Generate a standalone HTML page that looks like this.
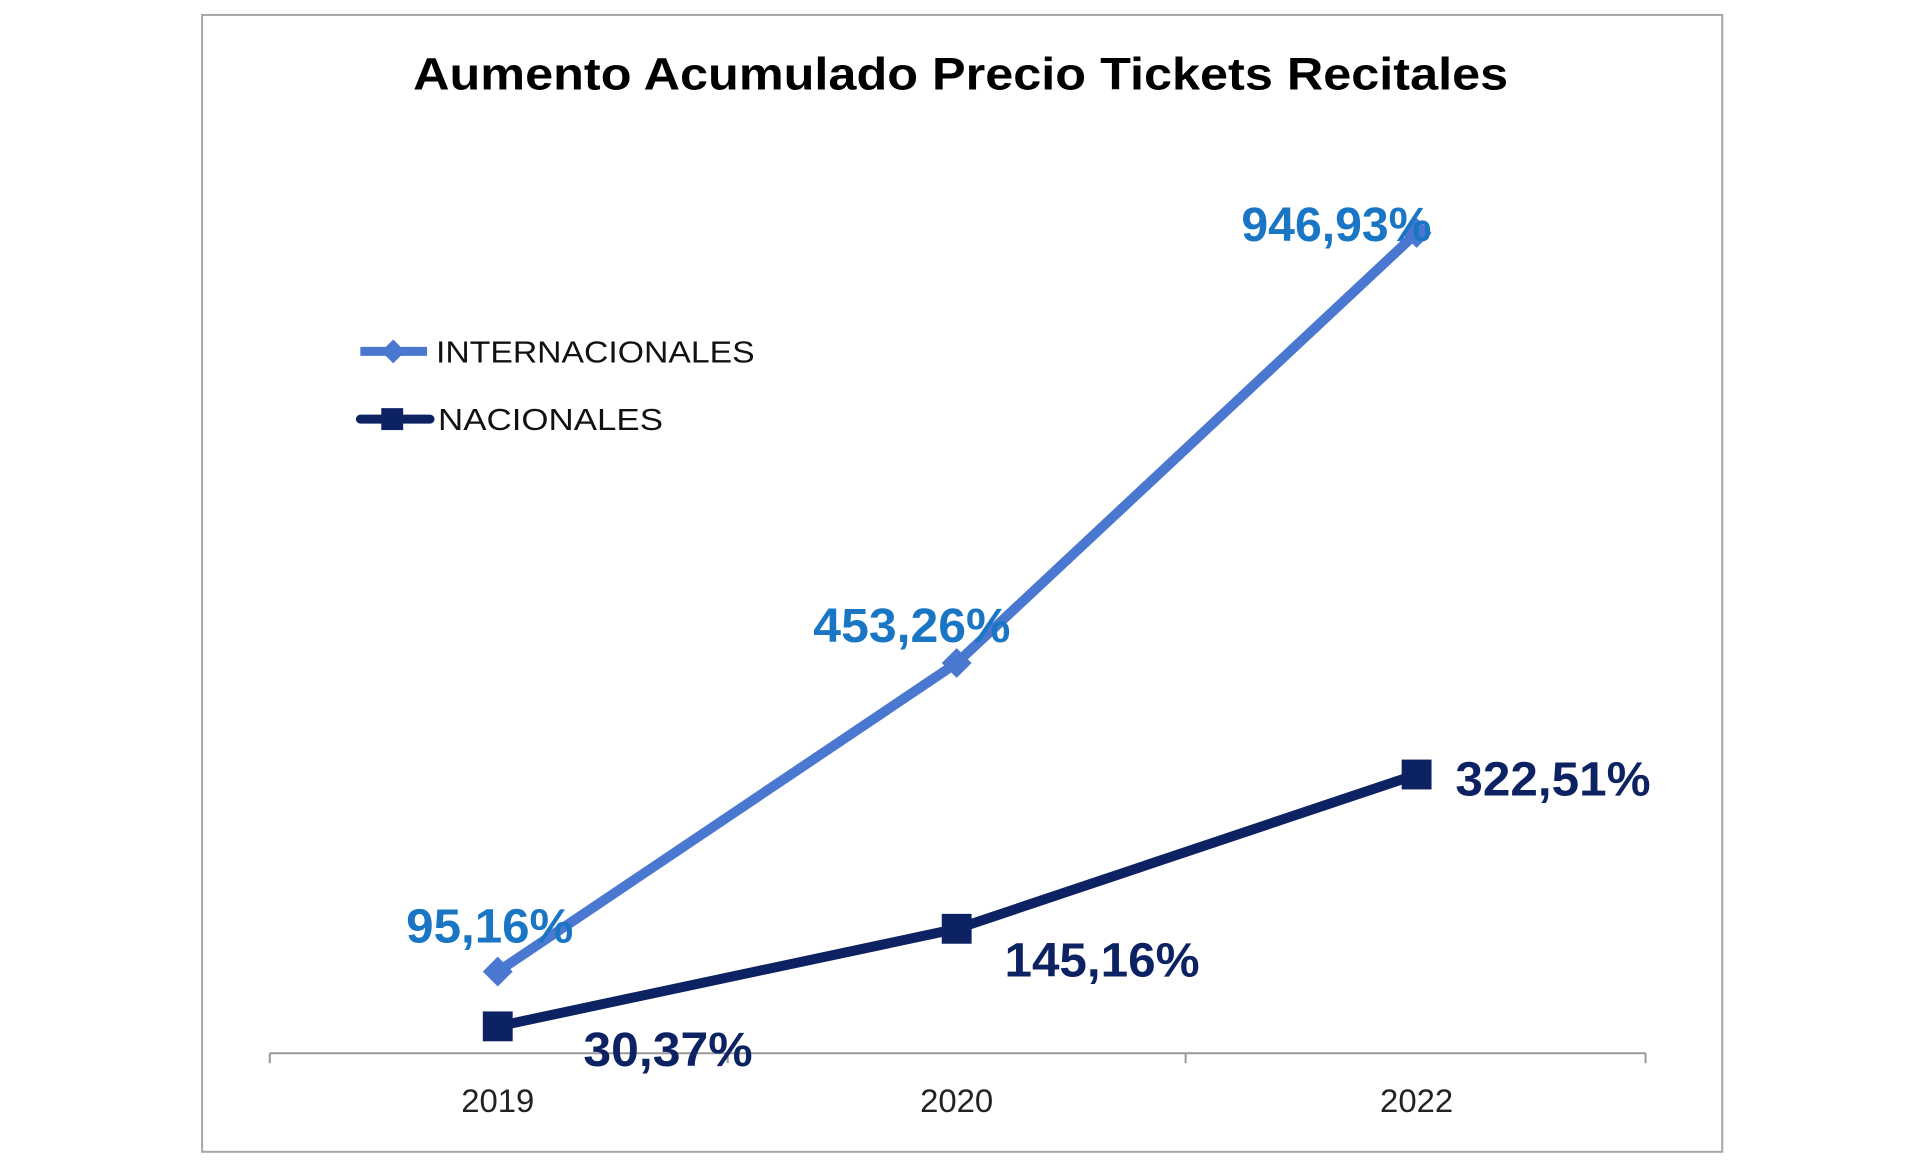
<!DOCTYPE html>
<html><head><meta charset="utf-8"><style>html,body{margin:0;padding:0;background:#fff}svg{display:block}</style></head>
<body>
<svg width="1920" height="1164" viewBox="0 0 1920 1164" xmlns="http://www.w3.org/2000/svg" font-family="Liberation Sans, sans-serif">
<rect x="0" y="0" width="1920" height="1164" fill="#fff"/>
<g transform="scale(0.9955)">
<rect x="203" y="15" width="1527" height="1142" fill="#fff" stroke="#a6a6a6" stroke-width="2"/>
<text x="965" y="90" text-anchor="middle" font-size="46" font-weight="bold" fill="#000" textLength="1100" lengthAdjust="spacingAndGlyphs">Aumento Acumulado Precio Tickets Recitales</text>
<g stroke="#999" stroke-width="2">
<line x1="271" y1="1058" x2="1653" y2="1058"/>
<line x1="271" y1="1058" x2="271" y2="1068"/>
<line x1="731" y1="1058" x2="731" y2="1068"/>
<line x1="1191" y1="1058" x2="1191" y2="1068"/>
<line x1="1653" y1="1058" x2="1653" y2="1068"/>
</g>
<g font-size="33" fill="#222" text-anchor="middle">
<text x="500" y="1117">2019</text>
<text x="961" y="1117">2020</text>
<text x="1423" y="1117">2022</text>
</g>
<polyline points="500,976 961,666 1423,234" fill="none" stroke="#4a78d0" stroke-width="10"/>
<g fill="#4a78d0">
<polygon points="500,961 515,976 500,991 485,976"/>
<polygon points="961,651 976,666 961,681 946,666"/>
<polygon points="1423,219 1438,234 1423,249 1408,234"/>
</g>
<polyline points="500,1031 961,933 1423,778" fill="none" stroke="#0d2262" stroke-width="10"/>
<g fill="#0d2262">
<rect x="485" y="1016" width="30" height="30"/>
<rect x="946" y="918" width="30" height="30"/>
<rect x="1408" y="763" width="30" height="30"/>
</g>
<g font-size="48" font-weight="bold">
<text x="408" y="947" fill="#1a76c4" textLength="168" lengthAdjust="spacingAndGlyphs">95,16%</text>
<text x="817" y="645" fill="#1a76c4" textLength="198" lengthAdjust="spacingAndGlyphs">453,26%</text>
<text x="1247" y="242" fill="#1a76c4" textLength="191" lengthAdjust="spacingAndGlyphs">946,93%</text>
<text x="1462" y="799" fill="#0d2262" textLength="196" lengthAdjust="spacingAndGlyphs">322,51%</text>
<text x="1009" y="981" fill="#0d2262" textLength="196" lengthAdjust="spacingAndGlyphs">145,16%</text>
<text x="586" y="1071" fill="#0d2262" textLength="170" lengthAdjust="spacingAndGlyphs">30,37%</text>
</g>
<line x1="362" y1="353" x2="429" y2="353" stroke="#4a78d0" stroke-width="9"/>
<polygon points="395,341 407,353 395,365 383,353" fill="#4a78d0"/>
<text x="438" y="364" font-size="31" fill="#111" textLength="320" lengthAdjust="spacingAndGlyphs">INTERNACIONALES</text>
<line x1="362" y1="421" x2="432" y2="421" stroke="#0d2262" stroke-width="9" stroke-linecap="round"/>
<rect x="383" y="410" width="22" height="22" fill="#0d2262"/>
<text x="440" y="432" font-size="31" fill="#111" textLength="226" lengthAdjust="spacingAndGlyphs">NACIONALES</text>
</g>
</svg>
</body></html>
